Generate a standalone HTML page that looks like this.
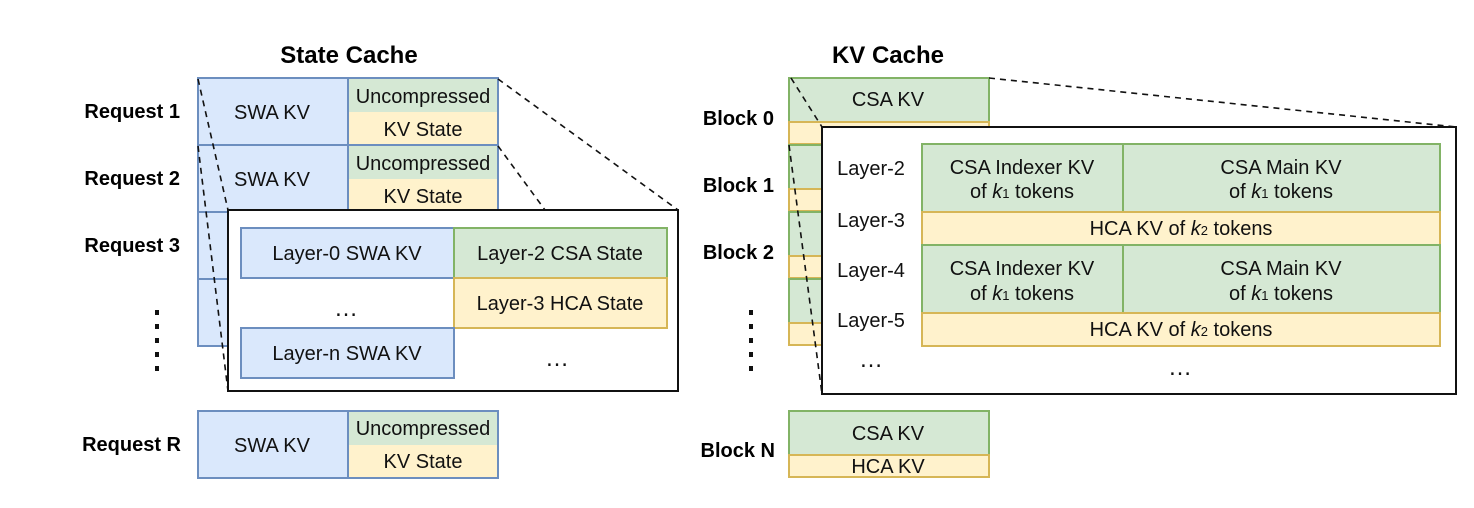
<!DOCTYPE html>
<html><head><meta charset="utf-8"><style>
html,body{margin:0;padding:0;background:#fff;}
svg text{font-family:"Liberation Sans",sans-serif;}
</style></head><body>
<svg width="1474" height="503" viewBox="0 0 1474 503" xmlns="http://www.w3.org/2000/svg">
<defs>
<g id="req">
<rect x="198" y="0" width="150" height="67" fill="#dae8fc" stroke="#6c8ebf" stroke-width="2"/>
<rect x="348" y="0" width="150" height="34" fill="#d5e8d4"/>
<rect x="348" y="34" width="150" height="33" fill="#fff2cc"/>
<rect x="348" y="0" width="150" height="67" fill="none" stroke="#6c8ebf" stroke-width="2"/>
</g>
<g id="blk">
<rect x="789" y="0" width="200" height="44" fill="#d5e8d4" stroke="#82b366" stroke-width="2"/>
<rect x="789" y="44" width="200" height="22" fill="#fff2cc" stroke="#d6b656" stroke-width="2"/>
</g>
</defs>
<g text-anchor="middle" font-weight="bold" font-size="24">
<text x="349" y="63">State Cache</text>
<text x="888" y="63">KV Cache</text>
</g>
<use href="#req" y="78"/><use href="#req" y="145"/><use href="#req" y="212"/><use href="#req" y="279"/><use href="#req" y="411"/>
<g font-size="20" text-anchor="middle" fill="#111">
<text x="272" y="119">SWA KV</text><text x="423" y="103">Uncompressed</text><text x="423" y="136">KV State</text>
<text x="272" y="186">SWA KV</text><text x="423" y="170">Uncompressed</text><text x="423" y="203">KV State</text>
<text x="272" y="452">SWA KV</text><text x="423" y="435">Uncompressed</text><text x="423" y="468">KV State</text>
</g>
<g font-size="20" font-weight="bold" text-anchor="end">
<text x="180" y="118">Request 1</text><text x="180" y="185">Request 2</text><text x="180" y="252">Request 3</text><text x="181" y="451">Request R</text>
<text x="774" y="125">Block 0</text><text x="774" y="192">Block 1</text><text x="774" y="259">Block 2</text><text x="775" y="457">Block N</text>
</g>
<g fill="#111">
<rect x="155" y="310" width="4" height="5"/><rect x="155" y="324" width="4" height="5"/><rect x="155" y="338" width="4" height="5"/><rect x="155" y="352" width="4" height="5"/><rect x="155" y="366" width="4" height="5"/>
<rect x="749" y="310" width="4" height="5"/><rect x="749" y="324" width="4" height="5"/><rect x="749" y="338" width="4" height="5"/><rect x="749" y="352" width="4" height="5"/><rect x="749" y="366" width="4" height="5"/>
</g>
<use href="#blk" y="78"/><use href="#blk" y="145"/><use href="#blk" y="212"/><use href="#blk" y="279"/><use href="#blk" y="411"/>
<g font-size="20" text-anchor="middle" fill="#111">
<text x="888" y="106">CSA KV</text><text x="888" y="140">HCA KV</text>
<text x="888" y="440">CSA KV</text><text x="888" y="473">HCA KV</text>
</g>
<g stroke="#111" stroke-width="1.6" stroke-dasharray="6,5" fill="none">
<line x1="198" y1="79" x2="228" y2="210"/><line x1="198" y1="146" x2="228" y2="391"/>
<line x1="498" y1="79" x2="678" y2="210"/><line x1="498" y1="146" x2="545" y2="210"/>
<line x1="791" y1="78" x2="822" y2="127"/><line x1="789" y1="145" x2="822" y2="394"/>
<line x1="989" y1="78" x2="1456" y2="127"/>
</g>
<rect x="228" y="210" width="450" height="181" fill="#fff" stroke="#111" stroke-width="2"/>
<rect x="241" y="228" width="213" height="50" fill="#dae8fc" stroke="#6c8ebf" stroke-width="2"/>
<rect x="454" y="228" width="213" height="50" fill="#d5e8d4" stroke="#82b366" stroke-width="2"/>
<rect x="454" y="278" width="213" height="50" fill="#fff2cc" stroke="#d6b656" stroke-width="2"/>
<rect x="241" y="328" width="213" height="50" fill="#dae8fc" stroke="#6c8ebf" stroke-width="2"/>
<g font-size="20" text-anchor="middle" fill="#111">
<text x="347" y="260">Layer-0 SWA KV</text><text x="560" y="260">Layer-2 CSA State</text>
<text x="560" y="310">Layer-3 HCA State</text><text x="347" y="360">Layer-n SWA KV</text>
</g>
<g font-size="24" text-anchor="middle" fill="#111">
<text x="346" y="316">…</text><text x="557" y="366">…</text>
</g>
<rect x="822" y="127" width="634" height="267" fill="#fff" stroke="#111" stroke-width="2"/>
<rect x="922" y="144" width="201" height="68" fill="#d5e8d4" stroke="#82b366" stroke-width="2"/>
<rect x="1123" y="144" width="317" height="68" fill="#d5e8d4" stroke="#82b366" stroke-width="2"/>
<rect x="922" y="212" width="518" height="33" fill="#fff2cc" stroke="#d6b656" stroke-width="2"/>
<rect x="922" y="245" width="201" height="68" fill="#d5e8d4" stroke="#82b366" stroke-width="2"/>
<rect x="1123" y="245" width="317" height="68" fill="#d5e8d4" stroke="#82b366" stroke-width="2"/>
<rect x="922" y="313" width="518" height="33" fill="#fff2cc" stroke="#d6b656" stroke-width="2"/>
<g font-size="20" text-anchor="middle" fill="#111">
<text x="1022" y="174">CSA Indexer KV</text><text x="1022" y="198">of <tspan font-style="italic">k</tspan><tspan font-size="13">1</tspan> tokens</text>
<text x="1281" y="174">CSA Main KV</text><text x="1281" y="198">of <tspan font-style="italic">k</tspan><tspan font-size="13">1</tspan> tokens</text>
<text x="1181" y="235">HCA KV of <tspan font-style="italic">k</tspan><tspan font-size="13">2</tspan> tokens</text>
<text x="1022" y="275">CSA Indexer KV</text><text x="1022" y="300">of <tspan font-style="italic">k</tspan><tspan font-size="13">1</tspan> tokens</text>
<text x="1281" y="275">CSA Main KV</text><text x="1281" y="300">of <tspan font-style="italic">k</tspan><tspan font-size="13">1</tspan> tokens</text>
<text x="1181" y="336">HCA KV of <tspan font-style="italic">k</tspan><tspan font-size="13">2</tspan> tokens</text>
<text x="871" y="175">Layer-2</text><text x="871" y="227">Layer-3</text><text x="871" y="277">Layer-4</text><text x="871" y="327">Layer-5</text>
</g>
<g font-size="24" text-anchor="middle" fill="#111">
<text x="871" y="367">…</text><text x="1180" y="375">…</text>
</g>
</svg>
</body></html>
